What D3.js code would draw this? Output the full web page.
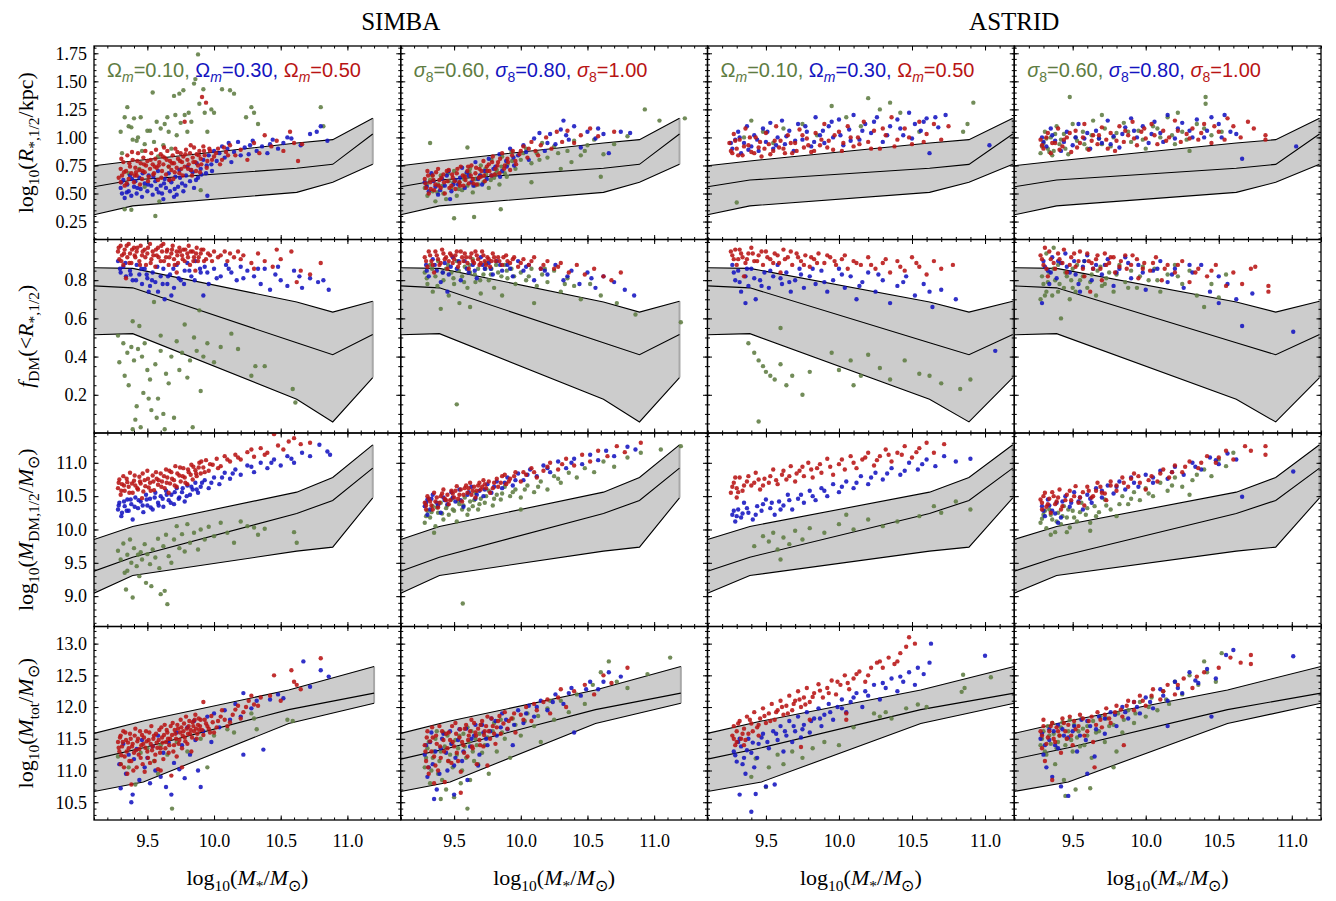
<!DOCTYPE html>
<html>
<head>
<meta charset="utf-8">
<script src="https://cdn.jsdelivr.net/npm/d3@7"></script>
<style>
body { margin: 0; background: #fff; }
svg text { font-family: "Liberation Serif", "Times New Roman", serif; fill: #000; }
svg .leg { font-family: "Liberation Sans", Arial, sans-serif; }
</style>
</head>
<body>
<svg id="chart" width="1336" height="901"></svg>
<script>
'use strict';

// ---- x ranges and legend values ----
const xDomainSimba = [9.1, 11.4];
const xDomainAstrid = [9.1, 11.2];
const xTicks = [9.5, 10.0, 10.5, 11.0];
const legendOm = ["0.10", "0.30", "0.50"];
const legendS8 = ["0.60", "0.80", "1.00"];

// ---- observational bands (lower / median / upper) ----
const bandX = [9.1, 9.39, 10.62, 10.89, 11.19];
const radLower = [0.31, 0.39, 0.51, 0.60, 0.76];
const radMid = [0.56, 0.62, 0.725, 0.76, 1.03];
const radUpper = [0.748, 0.79, 0.95, 0.98, 1.17];
const fdmLower = [0.514, 0.52, 0.177, 0.058, 0.29];
const fdmMid = [0.77, 0.76, 0.472, 0.41, 0.516];
const fdmUpper = [0.865, 0.862, 0.686, 0.633, 0.69];
const mdmLower = [9.045, 9.31, 9.675, 9.735, 10.475];
const mdmMid = [9.375, 9.585, 10.24, 10.435, 10.92];
const mdmUpper = [9.85, 10.045, 10.56, 10.78, 11.27];
const bandXTot = [9.1, 9.47, 10.56, 11.2];
const totLower = [10.67, 10.82, 11.74, 12.06];
const totMid = [11.18, 11.36, 11.96, 12.22];
const totUpper = [11.585, 11.78, 12.27, 12.64];

// ---- row 1: log10(R*,1/2/kpc) ----
const radSimbaOmG = [[9.30,1.05],[9.31,0.86],[9.33,1.18],[9.35,1.27],[9.36,1.10],[9.38,1.09],[9.39,0.98],[9.40,1.17],[9.42,0.97],[9.43,1.00],[9.45,1.18],[9.46,0.88],[9.48,0.94],[9.50,1.06],[9.52,1.06],[9.54,1.40],[9.55,0.96],[9.57,1.14],[9.58,0.83],[9.60,1.08],[9.62,0.93],[9.63,1.12],[9.65,1.18],[9.66,1.05],[9.68,0.90],[9.70,1.37],[9.71,1.20],[9.72,1.02],[9.74,1.39],[9.75,1.13],[9.77,1.42],[9.78,1.20],[9.80,1.05],[9.81,1.22],[9.83,1.14],[9.85,1.48],[9.86,1.52],[9.88,1.74],[9.89,1.30],[9.92,1.43],[9.93,1.22],[9.95,1.05],[9.98,1.25],[10.00,1.22],[10.06,1.43],[10.12,1.42],[10.15,1.39],[10.24,1.18],[10.28,1.27],[10.30,1.22],[10.33,1.12],[10.80,1.27],[10.82,1.10],[9.33,0.36],[9.59,0.43],[9.90,0.53],[9.48,0.56],[9.36,0.68],[9.66,0.74],[9.44,0.72],[9.56,0.30],[9.38,0.355]];
const radSimbaOmB = [[9.30,0.55],[9.31,0.50],[9.32,0.62],[9.33,0.46],[9.35,0.58],[9.36,0.52],[9.37,0.66],[9.38,0.48],[9.40,0.56],[9.41,0.61],[9.42,0.50],[9.44,0.64],[9.45,0.54],[9.46,0.47],[9.48,0.59],[9.50,0.52],[9.51,0.66],[9.53,0.57],[9.54,0.49],[9.56,0.61],[9.57,0.54],[9.58,0.70],[9.60,0.57],[9.61,0.50],[9.63,0.63],[9.64,0.55],[9.66,0.68],[9.67,0.52],[9.68,0.60],[9.70,0.47],[9.71,0.65],[9.73,0.56],[9.74,0.71],[9.76,0.59],[9.77,0.52],[9.79,0.66],[9.80,0.74],[9.82,0.61],[9.84,0.69],[9.85,0.55],[9.87,0.77],[9.88,0.64],[9.90,0.72],[9.92,0.80],[9.94,0.68],[9.96,0.84],[9.98,0.76],[10.00,0.88],[10.02,0.79],[10.04,0.86],[10.06,0.92],[10.08,0.82],[10.10,0.90],[10.13,0.78],[10.15,0.87],[10.18,0.96],[10.20,0.84],[10.23,0.91],[10.26,0.85],[10.29,0.97],[10.32,0.88],[10.36,0.92],[10.40,0.86],[10.44,0.98],[10.48,0.90],[10.52,0.95],[10.58,0.99],[10.65,0.93],[10.72,1.03],[10.80,1.10],[10.85,0.97],[10.77,1.05],[9.95,0.48],[9.305,0.60],[9.345,0.51],[9.385,0.63],[9.425,0.55],[9.465,0.68],[9.505,0.58],[9.545,0.65],[9.585,0.51],[9.625,0.59],[9.665,0.62],[9.705,0.54],[9.745,0.64],[9.785,0.57],[9.825,0.71],[9.865,0.62],[9.905,0.67],[9.945,0.75],[9.985,0.70],[10.11,0.95],[10.27,0.93],[10.42,0.94],[10.55,1.00],[9.62,0.45],[9.72,0.49]];
const radSimbaOmR = [[9.30,0.72],[9.30,0.60],[9.31,0.66],[9.32,0.78],[9.33,0.57],[9.34,0.70],[9.35,0.84],[9.36,0.63],[9.37,0.74],[9.38,0.68],[9.39,0.80],[9.40,0.60],[9.41,0.73],[9.42,0.66],[9.43,0.86],[9.44,0.71],[9.45,0.77],[9.46,0.63],[9.47,0.82],[9.48,0.69],[9.49,0.75],[9.50,0.79],[9.51,0.65],[9.52,0.72],[9.53,0.86],[9.54,0.76],[9.55,0.68],[9.56,0.81],[9.57,0.73],[9.58,0.62],[9.59,0.78],[9.60,0.85],[9.61,0.70],[9.62,0.76],[9.63,0.82],[9.64,0.67],[9.65,0.88],[9.66,0.74],[9.67,0.79],[9.68,0.71],[9.69,0.84],[9.70,0.77],[9.71,0.90],[9.72,0.73],[9.73,0.81],[9.74,0.68],[9.75,0.86],[9.76,0.78],[9.77,0.83],[9.78,0.74],[9.79,0.89],[9.80,0.80],[9.81,0.76],[9.82,0.86],[9.83,0.71],[9.84,0.82],[9.85,0.91],[9.86,0.78],[9.87,0.85],[9.88,0.75],[9.89,0.88],[9.90,0.81],[9.92,0.92],[9.93,0.84],[9.95,0.79],[9.97,0.88],[10.00,0.83],[10.03,0.90],[10.06,0.80],[10.09,0.87],[10.12,0.93],[10.16,0.84],[10.20,0.89],[10.25,0.80],[10.30,0.95],[10.34,0.86],[10.38,1.02],[10.43,0.92],[10.47,0.97],[10.52,0.88],[10.57,1.05],[10.60,0.95],[10.63,0.79],[10.66,0.94],[9.91,1.36],[9.94,1.31],[9.78,1.14],[9.285,0.64],[9.305,0.81],[9.325,0.69],[9.345,0.59],[9.365,0.77],[9.385,0.87],[9.405,0.66],[9.425,0.79],[9.445,0.58],[9.465,0.70],[9.485,0.88],[9.505,0.61],[9.525,0.80],[9.545,0.67],[9.565,0.89],[9.585,0.75],[9.605,0.64],[9.625,0.91],[9.645,0.80],[9.665,0.62],[9.685,0.77],[9.705,0.69],[9.725,0.87],[9.745,0.79],[9.765,0.66],[9.785,0.85],[9.805,0.72],[9.825,0.93],[9.845,0.78],[9.865,0.70],[9.885,0.84],[9.905,0.76],[9.925,0.88],[9.945,0.73],[9.965,0.90],[9.985,0.80],[10.015,0.86],[10.045,0.76],[10.075,0.91],[10.105,0.84],[9.415,0.69],[9.555,0.74],[9.695,0.63],[9.835,0.66],[9.475,0.76],[9.615,0.83],[9.755,0.72],[9.895,0.69]];
const radSimbaS8G = [[9.28,0.55],[9.30,0.48],[9.32,0.62],[9.34,0.52],[9.36,0.43],[9.38,0.58],[9.40,0.66],[9.42,0.50],[9.44,0.45],[9.46,0.61],[9.48,0.55],[9.50,0.70],[9.52,0.48],[9.54,0.60],[9.56,0.53],[9.58,0.66],[9.60,0.57],[9.62,0.72],[9.64,0.51],[9.66,0.63],[9.68,0.58],[9.70,0.75],[9.72,0.60],[9.74,0.67],[9.76,0.55],[9.78,0.80],[9.80,0.64],[9.82,0.71],[9.84,0.58],[9.86,0.83],[9.88,0.68],[9.90,0.76],[9.93,0.87],[9.96,0.72],[10.00,0.80],[10.04,0.90],[10.08,0.77],[10.12,0.86],[10.16,0.95],[10.20,0.82],[10.25,0.92],[10.30,0.72],[10.35,0.88],[10.40,0.97],[10.45,0.84],[10.50,0.93],[10.55,0.98],[10.62,0.85],[10.70,0.94],[10.80,1.01],[10.93,1.25],[11.04,1.15],[11.23,1.17],[10.60,0.65],[10.08,0.60],[9.50,0.28],[9.65,0.29],[9.85,0.36],[9.32,0.95],[9.60,0.91],[9.295,0.58],[9.335,0.66],[9.375,0.51],[9.415,0.57],[9.455,0.68],[9.495,0.60],[9.535,0.54],[9.575,0.63],[9.615,0.69],[9.655,0.57],[9.695,0.66],[9.735,0.72],[9.775,0.62],[9.815,0.68],[9.855,0.74],[9.895,0.65],[9.935,0.79],[10.02,0.86],[10.14,0.80],[10.28,0.86],[10.38,0.78],[10.48,0.88]];
const radSimbaS8B = [[9.28,0.60],[9.31,0.52],[9.33,0.68],[9.36,0.56],[9.38,0.49],[9.41,0.63],[9.43,0.57],[9.46,0.70],[9.48,0.52],[9.51,0.62],[9.53,0.58],[9.56,0.73],[9.58,0.55],[9.61,0.66],[9.63,0.60],[9.66,0.78],[9.68,0.63],[9.71,0.58],[9.73,0.70],[9.76,0.81],[9.78,0.66],[9.81,0.74],[9.84,0.85],[9.86,0.70],[9.89,0.79],[9.92,0.90],[9.95,0.75],[9.98,0.84],[10.02,0.93],[10.06,0.80],[10.10,0.99],[10.14,1.04],[10.18,0.88],[10.22,1.03],[10.26,0.94],[10.30,1.07],[10.32,1.15],[10.36,0.98],[10.40,1.10],[10.45,0.91],[10.50,1.05],[10.56,0.99],[10.62,1.03],[10.66,0.86],[10.75,1.05],[10.82,1.04],[9.47,0.45],[9.295,0.56],[9.345,0.61],[9.395,0.53],[9.445,0.66],[9.495,0.58],[9.545,0.64],[9.595,0.69],[9.645,0.57],[9.695,0.66],[9.745,0.63],[9.795,0.72],[9.845,0.65],[9.895,0.74],[9.945,0.82],[10.04,0.87],[10.20,0.95],[10.34,1.02],[10.58,1.08]];
const radSimbaS8R = [[9.28,0.63],[9.29,0.55],[9.30,0.70],[9.31,0.50],[9.32,0.60],[9.34,0.66],[9.35,0.53],[9.36,0.58],[9.38,0.72],[9.39,0.62],[9.40,0.55],[9.42,0.67],[9.43,0.50],[9.45,0.61],[9.46,0.71],[9.48,0.57],[9.49,0.64],[9.51,0.54],[9.52,0.68],[9.54,0.60],[9.55,0.74],[9.57,0.57],[9.58,0.65],[9.60,0.70],[9.61,0.59],[9.63,0.75],[9.64,0.63],[9.66,0.68],[9.67,0.58],[9.69,0.72],[9.70,0.65],[9.72,0.79],[9.73,0.61],[9.75,0.70],[9.76,0.76],[9.78,0.66],[9.79,0.83],[9.81,0.72],[9.83,0.78],[9.84,0.68],[9.86,0.86],[9.88,0.75],[9.90,0.81],[9.92,0.71],[9.94,0.88],[9.96,0.79],[9.99,0.85],[10.02,0.92],[10.05,0.82],[10.08,0.96],[10.11,0.88],[10.15,0.93],[10.19,1.00],[10.23,0.90],[10.27,1.05],[10.31,0.96],[10.35,1.06],[10.40,0.95],[10.45,1.02],[10.52,1.08],[10.58,1.01],[10.70,1.05],[9.285,0.59],[9.305,0.66],[9.325,0.54],[9.345,0.62],[9.365,0.69],[9.385,0.57],[9.405,0.64],[9.425,0.60],[9.445,0.70],[9.465,0.55],[9.485,0.67],[9.505,0.61],[9.525,0.72],[9.545,0.57],[9.565,0.66],[9.585,0.62],[9.605,0.74],[9.625,0.66],[9.645,0.59],[9.665,0.73],[9.685,0.64],[9.705,0.70],[9.725,0.66],[9.745,0.74],[9.765,0.70],[9.785,0.78],[9.805,0.67],[9.825,0.75],[9.845,0.81],[9.875,0.72],[9.905,0.78],[9.935,0.84],[9.965,0.76],[10.00,0.88],[10.06,0.90],[10.13,0.84]];
const radAstridOmG = [[9.30,0.42],[9.35,1.00],[9.48,1.05],[9.62,1.08],[9.75,1.12],[9.85,1.02],[9.95,1.28],[10.05,1.18],[10.15,1.10],[10.28,1.25],[10.35,1.31],[10.42,1.22],[10.55,1.05],[10.85,1.05],[10.88,1.12],[10.92,1.31],[9.40,1.15],[9.55,0.95],[10.20,1.35]];
const radAstridOmB = [[9.27,0.90],[9.29,0.98],[9.31,1.05],[9.33,0.86],[9.35,0.95],[9.37,1.10],[9.40,0.92],[9.42,1.02],[9.45,0.88],[9.48,1.08],[9.50,0.96],[9.53,1.13],[9.55,0.90],[9.58,1.00],[9.61,1.15],[9.63,0.94],[9.66,1.06],[9.69,0.88],[9.72,1.12],[9.75,0.98],[9.78,1.05],[9.81,0.92],[9.84,1.18],[9.87,1.02],[9.90,0.95],[9.93,1.10],[9.96,1.00],[10.00,1.16],[10.03,0.93],[10.07,1.07],[10.10,1.20],[10.14,0.98],[10.18,1.12],[10.22,1.04],[10.26,1.18],[10.30,0.96],[10.35,1.10],[10.40,1.16],[10.44,1.02],[10.48,1.22],[10.52,1.12],[10.56,1.06],[10.60,1.17],[10.68,1.09],[10.73,1.20],[11.03,0.93],[10.62,0.86],[9.26,0.95],[9.32,1.00],[9.38,0.89],[9.44,0.98],[9.51,1.05],[9.57,0.93],[9.64,1.01],[9.70,0.97],[9.77,1.10],[9.83,0.96],[9.89,1.06],[9.95,1.14],[10.01,1.02],[10.08,0.97],[10.16,1.06],[10.24,1.14],[10.33,1.02],[10.42,1.08],[10.50,0.99],[10.58,1.14],[10.66,1.18]];
const radAstridOmR = [[9.25,0.95],[9.27,0.86],[9.28,1.03],[9.30,0.90],[9.32,0.98],[9.34,0.84],[9.36,1.08],[9.38,0.93],[9.40,0.87],[9.43,1.00],[9.45,0.91],[9.47,0.83],[9.50,1.04],[9.52,0.94],[9.55,0.88],[9.57,1.10],[9.60,0.97],[9.62,0.90],[9.65,1.02],[9.68,0.86],[9.70,0.95],[9.73,1.07],[9.76,0.91],[9.78,0.99],[9.81,0.87],[9.84,1.04],[9.87,0.93],[9.90,1.12],[9.93,0.97],[9.96,0.89],[10.00,1.05],[10.03,0.95],[10.06,1.10],[10.10,0.92],[10.13,1.00],[10.17,1.14],[10.20,0.96],[10.24,1.06],[10.28,0.90],[10.32,1.02],[10.36,1.18],[10.40,0.98],[10.45,1.08],[10.50,0.94],[10.55,1.14],[10.60,1.03],[10.65,1.12],[10.70,0.98],[10.75,1.10],[9.26,0.88],[9.29,0.97],[9.31,0.84],[9.35,0.92],[9.39,1.00],[9.42,0.86],[9.46,0.96],[9.49,0.90],[9.53,0.85],[9.56,0.97],[9.59,0.91],[9.63,0.86],[9.67,0.95],[9.71,0.88],[9.75,1.02],[9.79,0.93],[9.83,0.88],[9.88,0.98],[9.92,0.91],[9.97,1.02],[10.02,0.88],[10.08,1.00],[10.14,0.94],[10.22,0.90],[10.30,1.08],[10.38,0.92],[10.48,1.00],[10.58,0.96]];
const radAstridS8G = [[9.28,0.86],[9.30,0.95],[9.31,1.05],[9.33,0.90],[9.35,1.00],[9.37,0.88],[9.39,1.10],[9.41,0.94],[9.44,1.03],[9.48,1.36],[9.47,0.85],[9.50,1.12],[9.53,0.97],[9.57,1.05],[9.60,0.90],[9.64,1.15],[9.68,0.99],[9.72,1.08],[9.76,0.92],[9.80,1.04],[9.85,1.13],[9.90,0.96],[9.95,1.06],[10.00,0.90],[10.05,1.10],[10.10,1.00],[10.15,1.18],[10.20,0.94],[10.25,1.05],[10.30,0.88],[10.35,1.12],[10.41,1.36],[10.41,1.30],[10.45,1.02],[10.22,1.22],[9.70,1.20],[10.52,1.05],[9.29,0.92],[9.32,0.99],[9.34,0.87],[9.38,1.03],[9.42,0.98],[9.45,0.90],[9.52,1.00],[9.58,0.94],[9.63,1.02],[9.70,0.94],[9.78,1.00],[9.88,1.05],[9.98,0.98],[10.08,1.08],[10.18,1.02],[10.28,0.98],[10.40,1.08],[9.36,0.84]];
const radAstridS8B = [[9.29,1.00],[9.32,0.92],[9.35,1.08],[9.38,0.97],[9.42,0.88],[9.46,1.05],[9.50,0.93],[9.54,1.12],[9.58,0.99],[9.62,0.90],[9.66,1.06],[9.70,0.95],[9.74,1.15],[9.78,1.01],[9.82,0.91],[9.86,1.09],[9.90,1.17],[9.94,1.00],[9.98,1.10],[10.02,0.95],[10.06,1.14],[10.10,1.04],[10.15,1.20],[10.20,0.99],[10.25,1.13],[10.30,1.06],[10.35,1.16],[10.40,1.00],[10.45,1.18],[10.50,1.12],[10.54,1.20],[10.58,1.05],[10.66,0.81],[11.03,0.92],[10.62,1.03],[9.30,0.96],[9.36,1.02],[9.44,0.96],[9.52,1.00],[9.60,1.04],[9.68,0.99],[9.76,0.94],[9.84,1.03],[9.92,1.06],[10.04,1.03],[10.12,0.96],[10.22,1.08],[10.32,1.00],[10.42,1.06],[10.52,1.00]];
const radAstridS8R = [[9.28,0.98],[9.30,0.90],[9.33,1.04],[9.35,0.86],[9.38,0.95],[9.40,1.08],[9.43,0.92],[9.46,1.00],[9.49,0.87],[9.52,1.06],[9.55,0.95],[9.58,1.12],[9.61,0.89],[9.64,1.02],[9.67,0.94],[9.70,1.09],[9.73,0.98],[9.76,1.04],[9.79,0.88],[9.82,1.10],[9.85,0.96],[9.88,1.02],[9.91,1.14],[9.94,0.93],[9.97,1.05],[10.00,0.99],[10.04,1.12],[10.08,0.94],[10.12,1.06],[10.16,1.00],[10.20,1.15],[10.24,0.96],[10.28,1.03],[10.32,1.08],[10.36,0.98],[10.40,1.12],[10.45,0.95],[10.50,1.05],[10.56,1.17],[10.60,1.10],[10.65,1.00],[10.70,1.14],[10.74,1.08],[10.82,1.02],[10.82,0.98],[9.29,0.93],[9.32,1.00],[9.36,0.95],[9.41,0.89],[9.44,0.98],[9.48,1.04],[9.53,0.91],[9.57,1.00],[9.63,0.97],[9.68,1.02],[9.74,0.90],[9.80,0.97],[9.86,1.06],[9.92,0.99],[9.99,1.08],[10.06,1.02],[10.14,0.97],[10.22,1.06],[10.30,0.99],[10.38,1.04],[10.47,1.10],[10.54,0.98]];

// ---- row 2: f_DM(<R*,1/2) ----
const fdmSimbaOmG = [[9.28,0.51],[9.29,0.37],[9.32,0.47],[9.33,0.30],[9.35,0.42],[9.36,0.25],[9.38,0.45],[9.39,0.585],[9.40,0.38],[9.41,0.07],[9.42,0.14],[9.43,0.44],[9.45,0.03],[9.46,0.40],[9.47,0.21],[9.48,0.47],[9.50,0.33],[9.52,0.28],[9.53,0.12],[9.55,0.686],[9.56,0.36],[9.58,0.18],[9.60,0.43],[9.62,0.10],[9.64,0.31],[9.66,0.26],[9.68,0.40],[9.70,0.08],[9.72,0.48],[9.74,0.33],[9.76,0.42],[9.78,0.568],[9.80,0.29],[9.82,0.38],[9.85,0.50],[9.87,0.43],[9.89,0.642],[9.90,0.22],[9.92,0.40],[9.95,0.47],[10.00,0.37],[10.05,0.45],[10.13,0.52],[10.18,0.44],[10.28,0.30],[10.31,0.35],[10.38,0.35],[10.59,0.23],[10.61,0.16],[9.44,0.56],[9.60,0.51],[9.51,0.18],[9.84,0.03],[9.63,0.02],[9.57,0.08],[9.39,0.02]];
const fdmSimbaOmB = [[9.28,0.90],[9.30,0.84],[9.32,0.87],[9.34,0.82],[9.37,0.85],[9.39,0.80],[9.42,0.88],[9.44,0.83],[9.46,0.78],[9.48,0.86],[9.50,0.81],[9.52,0.77],[9.54,0.84],[9.56,0.79],[9.58,0.74],[9.60,0.82],[9.62,0.86],[9.63,0.70],[9.65,0.78],[9.67,0.83],[9.70,0.76],[9.72,0.88],[9.75,0.80],[9.78,0.85],[9.80,0.89],[9.83,0.82],[9.86,0.90],[9.90,0.84],[9.93,0.87],[9.96,0.78],[10.00,0.86],[10.05,0.82],[10.09,0.88],[10.13,0.84],[10.17,0.80],[10.20,0.87],[10.25,0.85],[10.30,0.82],[10.35,0.78],[10.38,0.86],[10.42,0.75],[10.46,0.83],[10.50,0.80],[10.55,0.77],[10.60,0.85],[10.66,0.76],[10.72,0.81],[10.78,0.79],[10.82,0.80],[10.86,0.75],[9.92,0.72],[9.295,0.86],[9.335,0.89],[9.375,0.83],[9.415,0.80],[9.455,0.86],[9.495,0.83],[9.535,0.80],[9.575,0.87],[9.615,0.78],[9.655,0.82],[9.695,0.86],[9.735,0.81],[9.775,0.78],[9.815,0.85],[9.855,0.80],[9.895,0.86],[9.95,0.84],[10.02,0.81],[10.11,0.86],[10.22,0.81],[10.33,0.86],[10.48,0.87],[10.64,0.82],[9.51,0.74],[9.68,0.72]];
const fdmSimbaOmR = [[9.28,0.95],[9.29,0.91],[9.30,0.98],[9.31,0.93],[9.32,0.88],[9.33,0.96],[9.35,0.92],[9.36,0.99],[9.37,0.94],[9.38,0.89],[9.40,0.97],[9.41,0.92],[9.42,0.95],[9.44,0.90],[9.45,0.98],[9.46,0.93],[9.48,0.96],[9.49,0.88],[9.50,0.94],[9.52,0.99],[9.53,0.91],[9.54,0.95],[9.56,0.87],[9.57,0.93],[9.58,0.97],[9.60,0.90],[9.61,0.95],[9.62,0.99],[9.64,0.92],[9.65,0.96],[9.66,0.88],[9.68,0.94],[9.69,0.98],[9.70,0.91],[9.72,0.95],[9.73,0.89],[9.74,0.97],[9.76,0.93],[9.77,0.96],[9.78,0.90],[9.80,0.94],[9.81,0.98],[9.82,0.88],[9.84,0.95],[9.85,0.92],[9.87,0.97],[9.88,0.90],[9.90,0.94],[9.92,0.96],[9.94,0.91],[9.97,0.93],[10.00,0.95],[10.05,0.93],[10.08,0.95],[10.12,0.94],[10.15,0.92],[10.18,0.95],[10.22,0.93],[10.28,0.89],[10.30,0.86],[10.33,0.94],[10.38,0.90],[10.44,0.87],[10.47,0.96],[10.50,0.91],[10.58,0.95],[10.62,0.79],[10.65,0.85],[10.72,0.83],[10.80,0.89],[9.86,0.85],[9.34,0.81],[9.72,0.84],[9.285,0.97],[9.305,0.90],[9.325,0.94],[9.345,0.98],[9.365,0.89],[9.385,0.96],[9.405,0.93],[9.425,0.97],[9.445,0.88],[9.465,0.95],[9.485,0.92],[9.505,0.97],[9.525,0.89],[9.545,0.93],[9.565,0.96],[9.585,0.92],[9.605,0.98],[9.625,0.90],[9.645,0.95],[9.665,0.92],[9.685,0.96],[9.705,0.88],[9.725,0.93],[9.745,0.95],[9.765,0.91],[9.785,0.96],[9.805,0.92],[9.825,0.95],[9.845,0.90],[9.865,0.94],[9.885,0.92],[9.905,0.96],[9.925,0.90],[9.955,0.94],[9.985,0.90],[10.03,0.92],[10.10,0.90],[10.20,0.91]];
const fdmSimbaS8G = [[9.28,0.84],[9.30,0.78],[9.32,0.88],[9.34,0.74],[9.36,0.82],[9.38,0.90],[9.40,0.65],[9.42,0.80],[9.44,0.86],[9.46,0.72],[9.48,0.84],[9.50,0.78],[9.52,0.90],[9.54,0.68],[9.56,0.82],[9.58,0.87],[9.60,0.76],[9.62,0.84],[9.64,0.91],[9.66,0.79],[9.68,0.86],[9.70,0.73],[9.72,0.83],[9.74,0.89],[9.76,0.80],[9.78,0.86],[9.80,0.76],[9.83,0.84],[9.86,0.72],[9.88,0.88],[9.90,0.81],[9.93,0.86],[9.96,0.78],[10.00,0.84],[10.04,0.80],[10.08,0.86],[10.12,0.77],[10.16,0.83],[10.20,0.79],[10.25,0.85],[10.30,0.74],[10.35,0.81],[10.40,0.77],[10.45,0.70],[10.52,0.78],[10.60,0.72],[10.72,0.68],[10.86,0.62],[11.20,0.58],[9.52,0.15],[9.62,0.66],[10.10,0.68],[9.295,0.81],[9.335,0.86],[9.375,0.77],[9.415,0.84],[9.455,0.88],[9.495,0.81],[9.535,0.85],[9.575,0.79],[9.615,0.88],[9.655,0.83],[9.695,0.80],[9.735,0.86],[9.775,0.83],[9.815,0.88],[9.855,0.82],[9.895,0.85],[9.95,0.82],[10.06,0.82],[10.18,0.86],[10.33,0.78]];
const fdmSimbaS8B = [[9.29,0.88],[9.31,0.82],[9.34,0.91],[9.37,0.85],[9.40,0.79],[9.43,0.89],[9.46,0.83],[9.49,0.92],[9.52,0.86],[9.55,0.80],[9.58,0.90],[9.61,0.84],[9.64,0.88],[9.67,0.81],[9.70,0.92],[9.73,0.86],[9.76,0.89],[9.79,0.83],[9.82,0.90],[9.86,0.85],[9.90,0.88],[9.94,0.82],[9.98,0.90],[10.02,0.85],[10.06,0.88],[10.10,0.80],[10.15,0.86],[10.20,0.83],[10.26,0.88],[10.32,0.80],[10.38,0.85],[10.44,0.78],[10.50,0.84],[10.56,0.76],[10.62,0.82],[10.70,0.79],[10.78,0.75],[10.85,0.72],[9.45,0.74],[9.295,0.85],[9.355,0.88],[9.415,0.84],[9.475,0.87],[9.535,0.90],[9.595,0.86],[9.655,0.85],[9.715,0.88],[9.775,0.86],[9.845,0.88],[9.92,0.86],[10.04,0.87],[10.18,0.85],[10.35,0.82],[10.53,0.81]];
const fdmSimbaS8R = [[9.28,0.92],[9.30,0.87],[9.31,0.95],[9.33,0.90],[9.35,0.84],[9.37,0.93],[9.39,0.88],[9.41,0.96],[9.43,0.91],[9.45,0.86],[9.47,0.94],[9.49,0.89],[9.51,0.93],[9.53,0.87],[9.55,0.95],[9.57,0.90],[9.59,0.92],[9.61,0.86],[9.63,0.94],[9.65,0.89],[9.67,0.93],[9.69,0.88],[9.71,0.95],[9.73,0.90],[9.75,0.92],[9.77,0.87],[9.79,0.94],[9.81,0.90],[9.83,0.92],[9.86,0.88],[9.89,0.93],[9.92,0.89],[9.95,0.92],[9.98,0.87],[10.02,0.91],[10.06,0.88],[10.10,0.92],[10.15,0.86],[10.20,0.90],[10.25,0.86],[10.30,0.89],[10.36,0.84],[10.42,0.88],[10.48,0.83],[10.55,0.86],[10.62,0.82],[10.68,0.80],[10.75,0.84],[9.29,0.90],[9.32,0.93],[9.34,0.88],[9.36,0.95],[9.38,0.91],[9.40,0.89],[9.42,0.94],[9.44,0.92],[9.46,0.90],[9.48,0.93],[9.50,0.91],[9.52,0.95],[9.54,0.89],[9.56,0.92],[9.58,0.94],[9.60,0.89],[9.62,0.92],[9.64,0.90],[9.66,0.95],[9.68,0.91],[9.70,0.89],[9.72,0.93],[9.74,0.88],[9.76,0.91],[9.78,0.90],[9.80,0.92],[9.84,0.90],[9.87,0.92],[9.90,0.90],[9.94,0.91],[10.00,0.89],[10.08,0.90],[10.17,0.88],[10.28,0.87]];
const fdmAstridOmG = [[9.38,0.47],[9.42,0.42],[9.45,0.38],[9.48,0.35],[9.50,0.32],[9.53,0.30],[9.56,0.28],[9.60,0.36],[9.64,0.25],[9.68,0.30],[9.75,0.20],[9.80,0.32],[9.45,0.06],[10.00,0.33],[10.08,0.38],[10.15,0.30],[10.20,0.41],[10.28,0.34],[10.35,0.28],[10.45,0.38],[10.55,0.31],[10.62,0.30],[10.70,0.26],[10.83,0.23],[10.90,0.28],[9.60,0.55],[9.95,0.42],[10.10,0.25]];
const fdmAstridOmB = [[9.27,0.88],[9.29,0.80],[9.31,0.85],[9.33,0.74],[9.36,0.82],[9.38,0.77],[9.40,0.86],[9.43,0.70],[9.46,0.80],[9.49,0.84],[9.52,0.76],[9.55,0.82],[9.58,0.88],[9.61,0.78],[9.64,0.84],[9.67,0.74],[9.70,0.80],[9.73,0.86],[9.76,0.76],[9.80,0.82],[9.84,0.78],[9.88,0.85],[9.92,0.74],[9.96,0.80],[10.00,0.86],[10.04,0.76],[10.08,0.82],[10.12,0.70],[10.16,0.79],[10.20,0.84],[10.25,0.74],[10.30,0.80],[10.35,0.68],[10.40,0.77],[10.46,0.82],[10.52,0.72],[10.58,0.78],[10.64,0.66],[10.70,0.75],[10.80,0.70],[11.07,0.43],[9.36,0.68],[9.28,0.84],[9.32,0.79],[9.37,0.86],[9.42,0.81],[9.47,0.77],[9.53,0.85],[9.60,0.81],[9.66,0.79],[9.74,0.83],[9.82,0.86],[9.90,0.79],[10.02,0.83],[10.14,0.77],[10.27,0.83],[10.44,0.79],[10.62,0.74]];
const fdmAstridOmR = [[9.26,0.95],[9.28,0.91],[9.30,0.88],[9.32,0.96],[9.34,0.92],[9.36,0.89],[9.38,0.94],[9.40,0.97],[9.42,0.90],[9.45,0.93],[9.48,0.88],[9.50,0.95],[9.53,0.91],[9.56,0.94],[9.59,0.89],[9.62,0.96],[9.65,0.92],[9.68,0.88],[9.71,0.94],[9.74,0.90],[9.77,0.93],[9.80,0.87],[9.83,0.91],[9.86,0.94],[9.90,0.89],[9.94,0.92],[9.98,0.88],[10.02,0.91],[10.06,0.86],[10.10,0.90],[10.15,0.88],[10.20,0.92],[10.25,0.86],[10.30,0.89],[10.35,0.84],[10.40,0.90],[10.45,0.85],[10.50,0.92],[10.55,0.87],[10.60,0.83],[10.65,0.90],[10.70,0.86],[10.78,0.88],[9.35,0.82],[9.60,0.84],[9.27,0.93],[9.29,0.96],[9.31,0.91],[9.33,0.94],[9.37,0.91],[9.41,0.94],[9.44,0.90],[9.47,0.95],[9.51,0.92],[9.55,0.89],[9.58,0.93],[9.63,0.91],[9.67,0.95],[9.72,0.92],[9.76,0.88],[9.81,0.92],[9.85,0.89],[9.92,0.93],[9.97,0.90],[10.04,0.93],[10.12,0.89],[10.22,0.88],[10.32,0.91],[10.42,0.87],[10.53,0.89]];
const fdmAstridS8G = [[9.28,0.70],[9.30,0.78],[9.32,0.74],[9.34,0.84],[9.36,0.72],[9.38,0.80],[9.40,0.88],[9.42,0.60],[9.44,0.76],[9.46,0.82],[9.48,0.70],[9.50,0.86],[9.52,0.74],[9.55,0.80],[9.58,0.90],[9.60,0.76],[9.63,0.83],[9.66,0.72],[9.69,0.87],[9.72,0.78],[9.75,0.84],[9.78,0.74],[9.82,0.88],[9.86,0.79],[9.90,0.85],[9.94,0.76],[9.98,0.87],[10.02,0.80],[10.06,0.86],[10.10,0.74],[10.15,0.83],[10.20,0.88],[10.25,0.78],[10.30,0.85],[10.35,0.72],[10.40,0.66],[10.45,0.78],[10.50,0.71],[10.55,0.83],[9.32,0.94],[9.37,0.97],[9.29,0.82],[9.33,0.79],[9.37,0.86],[9.41,0.78],[9.45,0.84],[9.49,0.80],[9.53,0.88],[9.57,0.82],[9.62,0.79],[9.67,0.85],[9.73,0.81],[9.80,0.83],[9.88,0.76],[9.96,0.82],[10.08,0.80],[10.22,0.82],[9.31,0.72],[9.40,0.74],[9.50,0.76],[9.70,0.77]];
const fdmAstridS8B = [[9.29,0.68],[9.30,0.90],[9.33,0.85],[9.36,0.92],[9.39,0.81],[9.42,0.89],[9.45,0.94],[9.48,0.84],[9.51,0.90],[9.54,0.78],[9.57,0.87],[9.60,0.93],[9.63,0.80],[9.66,0.88],[9.70,0.83],[9.74,0.91],[9.78,0.77],[9.82,0.86],[9.86,0.92],[9.90,0.81],[9.95,0.88],[10.00,0.75],[10.05,0.85],[10.10,0.90],[10.15,0.79],[10.20,0.86],[10.26,0.76],[10.32,0.84],[10.38,0.88],[10.44,0.74],[10.50,0.82],[10.56,0.78],[10.62,0.70],[10.66,0.56],[10.73,0.73],[11.01,0.53],[10.50,0.68],[9.31,0.87],[9.35,0.84],[9.40,0.90],[9.46,0.87],[9.52,0.83],[9.58,0.90],[9.64,0.86],[9.72,0.88],[9.80,0.84],[9.88,0.89],[9.98,0.84],[10.08,0.86],[10.18,0.83],[10.30,0.88],[9.34,0.78],[9.55,0.74]];
const fdmAstridS8R = [[9.28,0.93],[9.30,0.88],[9.31,0.97],[9.33,0.82],[9.35,0.91],[9.38,0.86],[9.40,0.94],[9.43,0.89],[9.46,0.84],[9.49,0.92],[9.52,0.87],[9.55,0.95],[9.58,0.82],[9.61,0.90],[9.64,0.86],[9.67,0.93],[9.70,0.80],[9.73,0.88],[9.76,0.92],[9.79,0.84],[9.83,0.90],[9.87,0.86],[9.91,0.93],[9.95,0.81],[9.99,0.89],[10.03,0.85],[10.07,0.92],[10.11,0.80],[10.15,0.88],[10.20,0.84],[10.25,0.90],[10.30,0.79],[10.36,0.86],[10.42,0.82],[10.48,0.88],[10.55,0.77],[10.60,0.84],[10.66,0.78],[10.72,0.86],[10.75,0.87],[10.84,0.77],[10.84,0.74],[9.62,0.74],[9.29,0.91],[9.32,0.86],[9.34,0.95],[9.37,0.89],[9.41,0.91],[9.44,0.96],[9.48,0.88],[9.51,0.94],[9.54,0.90],[9.57,0.86],[9.60,0.94],[9.63,0.89],[9.66,0.91],[9.69,0.86],[9.72,0.94],[9.75,0.89],[9.78,0.92],[9.82,0.87],[9.86,0.93],[9.90,0.88],[9.94,0.91],[9.98,0.86],[10.05,0.89],[10.13,0.86],[10.22,0.88],[10.34,0.84],[10.45,0.85]];

// ---- row 3: log10(M_DM,1/2/Msun) ----
const mdmSimbaOmG = [[9.28,9.68],[9.30,9.55],[9.32,9.79],[9.33,9.35],[9.34,9.10],[9.35,9.62],[9.37,9.85],[9.38,9.50],[9.39,8.98],[9.40,9.72],[9.42,9.45],[9.43,9.62],[9.44,9.30],[9.46,9.55],[9.48,9.78],[9.49,9.20],[9.50,9.63],[9.52,9.48],[9.53,9.15],[9.54,9.70],[9.56,9.58],[9.58,9.86],[9.59,9.42],[9.60,9.03],[9.62,9.75],[9.63,9.08],[9.64,9.92],[9.65,8.88],[9.66,9.60],[9.68,9.50],[9.70,9.85],[9.72,10.05],[9.74,9.72],[9.76,9.93],[9.78,9.67],[9.80,10.08],[9.82,9.80],[9.85,9.95],[9.88,9.70],[9.90,10.00],[9.93,9.85],[9.96,10.04],[10.00,9.90],[10.05,10.10],[10.10,9.95],[10.15,9.80],[10.20,10.12],[10.25,10.05],[10.30,10.03],[10.33,9.92],[10.38,10.01],[10.60,9.96],[10.62,9.80],[9.35,9.38],[9.45,9.66]];
const mdmSimbaOmB = [[9.28,10.30],[9.29,10.40],[9.31,10.25],[9.33,10.35],[9.35,10.45],[9.36,10.28],[9.38,10.38],[9.39,10.15],[9.41,10.48],[9.43,10.32],[9.45,10.42],[9.47,10.26],[9.49,10.52],[9.50,10.36],[9.52,10.46],[9.54,10.30],[9.56,10.55],[9.58,10.40],[9.60,10.50],[9.62,10.34],[9.64,10.58],[9.66,10.44],[9.68,10.52],[9.70,10.38],[9.72,10.62],[9.74,10.48],[9.76,10.56],[9.78,10.42],[9.80,10.66],[9.82,10.52],[9.84,10.60],[9.86,10.70],[9.88,10.55],[9.90,10.64],[9.93,10.74],[9.96,10.62],[10.00,10.78],[10.04,10.68],[10.08,10.85],[10.12,10.76],[10.16,10.90],[10.20,10.82],[10.25,10.96],[10.30,10.86],[10.35,11.00],[10.40,10.92],[10.45,11.05],[10.50,10.96],[10.55,11.10],[10.60,11.00],[10.66,11.15],[10.72,11.10],[10.79,11.27],[10.85,11.17],[10.87,11.12],[9.285,10.36],[9.305,10.20],[9.325,10.42],[9.345,10.28],[9.375,10.45],[9.405,10.34],[9.435,10.44],[9.465,10.36],[9.495,10.45],[9.525,10.33],[9.555,10.48],[9.585,10.36],[9.615,10.46],[9.645,10.52],[9.675,10.40],[9.705,10.56],[9.735,10.46],[9.765,10.62],[9.795,10.50],[9.83,10.64],[9.87,10.60],[9.91,10.70],[9.98,10.70],[10.06,10.78],[10.14,10.84],[10.28,10.94],[10.43,11.00],[10.58,11.06]];
const mdmSimbaOmR = [[9.28,10.62],[9.29,10.75],[9.30,10.52],[9.31,10.68],[9.32,10.80],[9.33,10.58],[9.35,10.71],[9.36,10.64],[9.37,10.85],[9.39,10.55],[9.40,10.73],[9.41,10.66],[9.43,10.60],[9.44,10.79],[9.45,10.69],[9.47,10.57],[9.48,10.74],[9.50,10.88],[9.51,10.63],[9.52,10.70],[9.54,10.81],[9.55,10.59],[9.57,10.76],[9.58,10.67],[9.60,10.84],[9.61,10.72],[9.63,10.62],[9.64,10.90],[9.65,10.78],[9.67,10.69],[9.68,10.86],[9.70,10.74],[9.71,10.95],[9.72,10.64],[9.74,10.81],[9.75,10.72],[9.77,10.92],[9.78,10.78],[9.80,10.68],[9.81,10.86],[9.83,10.97],[9.84,10.75],[9.86,10.89],[9.87,10.80],[9.89,11.00],[9.90,10.84],[9.92,10.93],[9.94,11.04],[9.96,10.88],[9.99,10.97],[10.02,11.06],[10.05,10.95],[10.08,11.10],[10.12,11.02],[10.16,11.12],[10.20,11.05],[10.25,11.16],[10.30,11.09],[10.35,11.22],[10.40,11.15],[10.45,11.43],[10.48,11.26],[10.52,11.20],[10.56,11.32],[10.60,11.37],[10.65,11.28],[10.72,11.30],[9.46,10.47],[9.66,10.55],[9.285,10.70],[9.305,10.58],[9.325,10.66],[9.345,10.76],[9.365,10.55],[9.385,10.69],[9.405,10.81],[9.425,10.62],[9.445,10.72],[9.465,10.84],[9.485,10.65],[9.505,10.76],[9.525,10.58],[9.545,10.72],[9.565,10.86],[9.585,10.74],[9.605,10.64],[9.625,10.80],[9.645,10.70],[9.665,10.88],[9.685,10.76],[9.705,10.66],[9.725,10.84],[9.745,10.93],[9.765,10.80],[9.785,10.70],[9.805,10.90],[9.825,10.82],[9.845,10.94],[9.865,10.84],[9.885,10.93],[9.905,11.02],[9.93,10.86],[9.97,10.98],[10.03,10.92],[10.10,11.05],[10.18,11.08],[10.28,11.20],[10.38,11.12]];
const mdmSimbaS8G = [[9.28,10.10],[9.30,10.28],[9.32,10.18],[9.34,10.35],[9.36,10.05],[9.38,10.25],[9.40,10.40],[9.42,10.15],[9.44,10.32],[9.46,10.22],[9.48,10.45],[9.50,10.28],[9.52,10.12],[9.54,10.38],[9.56,10.30],[9.58,10.48],[9.60,10.22],[9.62,10.42],[9.64,10.35],[9.66,10.55],[9.68,10.30],[9.70,10.46],[9.73,10.40],[9.76,10.58],[9.79,10.36],[9.82,10.52],[9.85,10.45],[9.88,10.64],[9.92,10.50],[9.96,10.60],[10.00,10.48],[10.05,10.66],[10.10,10.56],[10.15,10.72],[10.20,10.60],[10.25,10.80],[10.30,10.70],[10.36,10.85],[10.42,10.78],[10.48,10.92],[10.55,10.86],[10.62,11.02],[10.70,10.94],[10.80,11.08],[10.90,11.15],[11.05,11.20],[11.20,11.25],[9.565,8.89],[9.35,9.95],[10.00,10.30],[9.29,10.20],[9.33,10.26],[9.37,10.33],[9.41,10.24],[9.45,10.36],[9.49,10.30],[9.53,10.42],[9.57,10.36],[9.61,10.30],[9.65,10.44],[9.69,10.38],[9.74,10.50],[9.80,10.46],[9.86,10.54],[9.94,10.56],[10.03,10.60],[10.13,10.64],[10.28,10.76]];
const mdmSimbaS8B = [[9.28,10.35],[9.30,10.45],[9.32,10.30],[9.34,10.52],[9.37,10.40],[9.40,10.25],[9.42,10.48],[9.45,10.38],[9.48,10.56],[9.51,10.42],[9.54,10.60],[9.57,10.34],[9.60,10.52],[9.63,10.64],[9.66,10.46],[9.69,10.58],[9.72,10.50],[9.75,10.68],[9.78,10.55],[9.82,10.72],[9.86,10.62],[9.90,10.78],[9.94,10.66],[9.98,10.84],[10.02,10.74],[10.07,10.90],[10.12,10.80],[10.17,10.96],[10.22,10.86],[10.28,11.02],[10.34,10.92],[10.40,11.06],[10.46,10.98],[10.52,11.12],[10.58,11.04],[10.64,11.18],[10.70,11.10],[10.80,11.24],[10.86,11.20],[9.30,10.22],[9.29,10.40],[9.33,10.46],[9.38,10.36],[9.43,10.44],[9.49,10.48],[9.55,10.44],[9.61,10.56],[9.67,10.52],[9.73,10.60],[9.80,10.64],[9.88,10.70],[9.96,10.74],[10.05,10.82],[10.20,10.92],[10.38,11.00]];
const mdmSimbaS8R = [[9.28,10.40],[9.29,10.30],[9.31,10.46],[9.33,10.36],[9.35,10.55],[9.36,10.42],[9.38,10.33],[9.40,10.50],[9.42,10.60],[9.44,10.44],[9.46,10.38],[9.48,10.58],[9.50,10.48],[9.52,10.65],[9.54,10.52],[9.56,10.42],[9.58,10.62],[9.60,10.55],[9.62,10.70],[9.64,10.58],[9.66,10.48],[9.68,10.66],[9.70,10.60],[9.72,10.74],[9.74,10.62],[9.77,10.55],[9.80,10.70],[9.83,10.64],[9.86,10.80],[9.89,10.68],[9.92,10.76],[9.96,10.86],[10.00,10.72],[10.04,10.82],[10.08,10.92],[10.12,10.78],[10.17,10.88],[10.22,11.00],[10.28,10.90],[10.34,11.06],[10.40,10.96],[10.46,11.12],[10.52,11.02],[10.58,11.18],[10.65,11.10],[10.72,11.25],[10.78,11.16],[10.90,11.30],[9.29,10.36],[9.30,10.50],[9.32,10.42],[9.34,10.30],[9.37,10.48],[9.39,10.40],[9.41,10.54],[9.43,10.46],[9.45,10.52],[9.47,10.44],[9.49,10.54],[9.51,10.58],[9.53,10.46],[9.55,10.60],[9.57,10.52],[9.59,10.66],[9.61,10.62],[9.63,10.52],[9.65,10.64],[9.67,10.58],[9.69,10.70],[9.71,10.64],[9.73,10.68],[9.76,10.72],[9.79,10.62],[9.82,10.76],[9.85,10.70],[9.88,10.82],[9.91,10.72],[9.95,10.80],[10.02,10.86],[10.10,10.86],[10.20,10.94],[10.31,10.98]];
const mdmAstridOmG = [[9.42,9.75],[9.48,9.90],[9.52,9.82],[9.55,9.95],[9.58,9.70],[9.62,9.88],[9.66,9.78],[9.70,9.98],[9.75,9.85],[9.80,10.02],[9.90,9.95],[10.00,10.08],[10.10,10.00],[10.20,10.15],[10.30,10.05],[10.40,10.12],[10.55,10.20],[10.65,10.35],[10.80,10.42],[10.90,10.30],[9.60,9.55],[10.05,10.22],[10.70,10.25]];
const mdmAstridOmB = [[9.27,10.22],[9.29,10.12],[9.31,10.30],[9.33,10.18],[9.35,10.40],[9.38,10.25],[9.41,10.15],[9.44,10.35],[9.47,10.28],[9.50,10.45],[9.53,10.32],[9.56,10.22],[9.59,10.42],[9.62,10.36],[9.65,10.52],[9.68,10.30],[9.72,10.46],[9.76,10.40],[9.80,10.58],[9.84,10.44],[9.88,10.62],[9.92,10.50],[9.96,10.68],[10.00,10.56],[10.05,10.72],[10.10,10.62],[10.15,10.80],[10.20,10.68],[10.25,10.85],[10.30,10.75],[10.36,10.92],[10.42,10.82],[10.48,11.00],[10.54,10.90],[10.60,11.05],[10.66,10.95],[10.72,11.10],[10.80,11.02],[10.90,11.06],[9.28,10.28],[9.30,10.20],[9.34,10.24],[9.37,10.32],[9.43,10.22],[9.48,10.38],[9.54,10.40],[9.60,10.30],[9.66,10.44],[9.74,10.52],[9.82,10.50],[9.90,10.58],[10.02,10.64],[10.12,10.70],[10.22,10.78],[10.33,10.84],[10.45,10.88],[10.57,10.98]];
const mdmAstridOmR = [[9.26,10.55],[9.28,10.70],[9.30,10.62],[9.32,10.78],[9.34,10.58],[9.37,10.72],[9.40,10.66],[9.43,10.85],[9.46,10.60],[9.49,10.76],[9.52,10.70],[9.55,10.90],[9.58,10.68],[9.61,10.82],[9.64,10.75],[9.67,10.95],[9.70,10.72],[9.73,10.88],[9.76,10.80],[9.79,11.00],[9.82,10.78],[9.85,10.92],[9.88,10.85],[9.92,11.06],[9.96,10.82],[10.00,10.98],[10.04,10.90],[10.08,11.10],[10.12,10.92],[10.16,11.05],[10.20,11.15],[10.24,10.96],[10.28,11.10],[10.32,11.20],[10.36,11.02],[10.40,11.15],[10.45,11.25],[10.50,11.08],[10.55,11.22],[10.60,11.30],[10.65,11.15],[10.72,11.28],[9.30,10.48],[9.27,10.64],[9.29,10.78],[9.31,10.56],[9.35,10.66],[9.38,10.80],[9.42,10.70],[9.45,10.75],[9.48,10.66],[9.53,10.80],[9.57,10.74],[9.62,10.88],[9.66,10.80],[9.71,10.84],[9.75,10.94],[9.81,10.90],[9.87,10.98],[9.94,10.94],[10.02,11.05],[10.10,11.00],[10.18,11.08],[10.26,11.04],[10.34,11.12],[10.43,11.12],[10.53,11.16]];
const mdmAstridS8G = [[9.28,10.10],[9.30,10.22],[9.32,10.02],[9.34,10.30],[9.36,10.15],[9.38,9.96],[9.40,10.25],[9.42,10.08],[9.44,10.35],[9.46,10.18],[9.48,10.03],[9.50,10.28],[9.53,10.12],[9.56,10.40],[9.59,10.22],[9.62,10.10],[9.65,10.35],[9.68,10.26],[9.72,10.45],[9.76,10.30],[9.80,10.20],[9.84,10.50],[9.88,10.38],[9.92,10.56],[9.96,10.44],[10.00,10.62],[10.05,10.50],[10.10,10.70],[10.15,10.58],[10.20,10.78],[10.25,10.64],[10.30,10.52],[10.35,10.82],[10.40,10.90],[10.45,10.80],[10.50,11.05],[10.55,10.95],[10.60,11.15],[9.35,9.92],[9.46,9.96],[9.62,9.98],[9.29,10.16],[9.31,10.28],[9.35,10.22],[9.39,10.12],[9.43,10.20],[9.47,10.30],[9.51,10.18],[9.55,10.26],[9.60,10.32],[9.66,10.20],[9.73,10.36],[9.82,10.38],[9.90,10.46],[10.02,10.54],[10.18,10.66],[10.32,10.74]];
const mdmAstridS8B = [[9.29,10.35],[9.31,10.20],[9.33,10.45],[9.36,10.28],[9.39,10.40],[9.42,10.18],[9.45,10.50],[9.48,10.34],[9.51,10.56],[9.54,10.42],[9.57,10.30],[9.60,10.52],[9.63,10.40],[9.66,10.62],[9.70,10.48],[9.74,10.66],[9.78,10.54],[9.82,10.72],[9.86,10.60],[9.90,10.78],[9.95,10.64],[10.00,10.82],[10.05,10.70],[10.10,10.88],[10.15,10.76],[10.20,10.94],[10.26,10.82],[10.32,11.00],[10.38,10.90],[10.44,11.08],[10.50,10.98],[10.56,11.14],[10.62,11.05],[10.66,10.49],[11.01,10.87],[9.40,10.10],[9.30,10.28],[9.34,10.36],[9.38,10.24],[9.43,10.42],[9.49,10.40],[9.55,10.48],[9.62,10.46],[9.70,10.58],[9.80,10.64],[9.92,10.70],[10.05,10.78],[10.18,10.86],[10.34,10.94],[10.48,11.04]];
const mdmAstridS8R = [[9.28,10.45],[9.29,10.30],[9.31,10.55],[9.33,10.38],[9.35,10.25],[9.37,10.50],[9.39,10.42],[9.41,10.60],[9.43,10.35],[9.46,10.52],[9.49,10.44],[9.52,10.65],[9.55,10.48],[9.58,10.36],[9.61,10.58],[9.64,10.50],[9.67,10.70],[9.70,10.55],[9.73,10.44],[9.76,10.66],[9.80,10.58],[9.84,10.78],[9.88,10.64],[9.92,10.84],[9.96,10.70],[10.00,10.60],[10.04,10.80],[10.08,10.72],[10.12,10.90],[10.16,10.78],[10.20,10.96],[10.25,10.86],[10.30,11.02],[10.36,10.92],[10.42,11.10],[10.48,11.00],[10.55,11.18],[10.60,11.05],[10.68,11.25],[10.72,11.18],[10.82,11.12],[10.82,11.25],[9.29,10.40],[9.30,10.50],[9.32,10.34],[9.34,10.46],[9.36,10.56],[9.38,10.38],[9.40,10.48],[9.42,10.30],[9.45,10.44],[9.48,10.58],[9.51,10.50],[9.54,10.40],[9.57,10.56],[9.60,10.64],[9.63,10.48],[9.66,10.58],[9.69,10.64],[9.72,10.54],[9.76,10.72],[9.80,10.66],[9.85,10.70],[9.90,10.76],[9.95,10.80],[10.02,10.74],[10.10,10.84],[10.18,10.86],[10.27,10.94],[10.38,11.00],[10.50,11.08]];

// ---- row 4: log10(M_tot/Msun) ----
const totSimbaOmG = [[9.28,11.22],[9.30,11.10],[9.36,11.05],[9.41,10.78],[9.45,11.28],[9.50,11.35],[9.55,11.15],[9.60,11.40],[9.65,11.25],[9.685,10.40],[9.72,11.45],[9.80,11.30],[9.90,11.50],[9.95,11.05],[10.00,11.55],[10.10,11.65],[10.15,11.60],[10.28,11.90],[10.30,11.82],[10.32,11.65],[10.55,11.80],[10.59,11.78],[9.58,10.95]];
const totSimbaOmB = [[9.29,11.10],[9.30,10.72],[9.32,11.42],[9.34,10.95],[9.36,11.25],[9.38,10.50],[9.39,10.62],[9.40,11.18],[9.42,11.34],[9.44,10.85],[9.46,11.48],[9.48,11.05],[9.50,11.20],[9.52,10.80],[9.54,11.38],[9.56,11.00],[9.58,11.55],[9.60,10.90],[9.62,11.28],[9.64,10.74],[9.66,11.44],[9.68,10.62],[9.70,11.12],[9.72,11.60],[9.74,11.02],[9.76,11.40],[9.78,10.88],[9.80,11.68],[9.82,11.25],[9.85,11.78],[9.88,11.00],[9.90,10.74],[9.92,11.62],[9.95,11.85],[9.98,11.45],[10.00,11.90],[10.04,11.68],[10.08,11.95],[10.12,11.80],[10.16,12.05],[10.20,11.85],[10.22,12.22],[10.22,11.25],[10.28,11.98],[10.32,12.10],[10.37,11.33],[10.42,12.12],[10.48,12.20],[10.52,12.14],[10.67,12.72],[10.72,12.32],[10.80,12.58],[10.86,12.48],[9.86,11.48]];
const totSimbaOmR = [[9.28,11.45],[9.29,11.30],[9.30,11.55],[9.30,11.10],[9.31,11.38],[9.32,11.62],[9.33,11.22],[9.34,11.48],[9.35,10.95],[9.36,11.35],[9.37,11.58],[9.38,11.15],[9.39,11.42],[9.40,11.28],[9.41,11.66],[9.42,11.05],[9.43,11.50],[9.44,11.34],[9.45,11.20],[9.46,11.56],[9.47,11.42],[9.48,10.98],[9.49,11.62],[9.50,11.30],[9.51,11.48],[9.52,11.12],[9.53,11.70],[9.54,11.38],[9.55,11.55],[9.56,11.25],[9.57,11.44],[9.58,11.02],[9.59,11.64],[9.60,11.35],[9.61,11.52],[9.62,11.18],[9.63,11.72],[9.64,11.45],[9.65,11.60],[9.66,11.28],[9.67,11.50],[9.68,10.92],[9.69,11.75],[9.70,11.40],[9.71,11.58],[9.72,11.22],[9.73,11.66],[9.74,11.48],[9.75,11.80],[9.76,11.35],[9.77,11.62],[9.78,11.52],[9.79,11.85],[9.80,11.42],[9.81,11.70],[9.82,11.58],[9.83,11.30],[9.84,11.76],[9.85,11.62],[9.86,11.88],[9.87,11.50],[9.88,11.72],[9.89,11.64],[9.90,11.80],[9.92,11.56],[9.94,11.74],[9.96,11.66],[9.98,11.86],[10.00,11.60],[10.03,11.78],[10.06,11.95],[10.10,11.70],[10.14,11.88],[10.18,12.02],[10.22,11.92],[10.26,12.10],[10.30,12.04],[10.35,12.15],[10.42,12.18],[10.45,12.50],[10.50,12.10],[10.58,12.58],[10.60,12.40],[10.62,12.35],[10.65,12.28],[10.80,12.77],[9.92,12.08],[9.60,11.00],[9.38,10.78],[9.76,11.05],[9.285,11.36],[9.295,11.52],[9.305,11.24],[9.315,11.45],[9.325,11.05],[9.335,11.60],[9.345,11.30],[9.355,11.44],[9.365,11.15],[9.375,11.50],[9.385,11.38],[9.395,11.00],[9.405,11.55],[9.415,11.32],[9.425,11.46],[9.435,11.25],[9.445,11.62],[9.455,11.40],[9.465,11.10],[9.475,11.52],[9.485,11.36],[9.495,11.46],[9.505,11.20],[9.515,11.60],[9.525,11.42],[9.535,11.32],[9.545,11.50],[9.555,11.15],[9.565,11.58],[9.575,11.36],[9.585,11.48],[9.595,11.28],[9.605,11.68],[9.615,11.44],[9.625,11.56],[9.635,11.35],[9.645,11.64],[9.655,11.50],[9.665,11.40],[9.675,11.70],[9.685,11.56],[9.695,11.30],[9.705,11.64],[9.715,11.50],[9.725,11.72],[9.735,11.42],[9.745,11.60],[9.755,11.68],[9.765,11.55],[9.775,11.74],[9.785,11.46],[9.795,11.66],[9.805,11.58],[9.815,11.78],[9.825,11.64],[9.835,11.52],[9.845,11.70],[9.855,11.80],[9.865,11.66],[9.875,11.58],[9.885,11.82],[9.895,11.70],[9.91,11.64],[9.93,11.80],[9.95,11.70],[9.97,11.60],[9.99,11.76],[10.02,11.68],[10.05,11.85],[10.08,11.80],[10.12,11.76],[10.16,11.96],[10.20,11.82],[10.24,12.00],[10.28,12.18],[10.33,12.02]];
const totSimbaS8G = [[9.28,11.05],[9.30,11.35],[9.32,10.80],[9.34,11.20],[9.36,11.50],[9.38,10.95],[9.40,11.30],[9.42,11.60],[9.44,10.70],[9.46,11.15],[9.48,11.42],[9.50,10.58],[9.52,11.25],[9.54,11.55],[9.56,11.00],[9.58,11.38],[9.60,11.68],[9.62,10.85],[9.64,11.30],[9.66,11.50],[9.68,11.10],[9.70,11.72],[9.73,11.40],[9.76,10.95],[9.79,11.62],[9.82,11.30],[9.85,11.80],[9.88,11.50],[9.92,11.20],[9.96,11.72],[10.00,11.55],[10.05,11.90],[10.10,11.70],[10.15,11.45],[10.20,11.98],[10.25,11.80],[10.30,12.10],[10.36,11.92],[10.42,12.20],[10.48,12.05],[10.54,12.35],[10.60,12.55],[10.66,12.72],[10.72,12.40],[10.80,12.30],[10.95,12.52],[11.12,12.78],[9.60,10.40],[9.40,10.55],[9.29,11.20],[9.31,11.45],[9.33,11.00],[9.35,11.30],[9.37,11.62],[9.39,11.15],[9.41,10.85],[9.43,11.38],[9.45,11.55],[9.47,11.25],[9.49,11.05],[9.51,11.48],[9.53,11.35],[9.55,10.80],[9.57,11.58],[9.59,11.20],[9.61,11.45],[9.63,11.62],[9.65,11.15],[9.67,11.40],[9.69,11.58],[9.71,11.28],[9.75,11.52],[9.80,11.75],[9.86,11.60],[9.94,11.82],[10.03,11.78],[10.13,11.86],[10.22,12.10]];
const totSimbaS8B = [[9.28,11.25],[9.30,10.90],[9.32,11.45],[9.34,11.10],[9.37,10.70],[9.40,11.35],[9.42,11.58],[9.45,11.00],[9.48,11.42],[9.51,11.20],[9.54,11.65],[9.57,11.30],[9.60,10.85],[9.63,11.50],[9.66,11.72],[9.69,11.25],[9.72,11.60],[9.75,11.40],[9.78,11.82],[9.82,11.55],[9.86,11.90],[9.90,11.65],[9.94,11.40],[9.98,11.95],[10.02,11.75],[10.06,12.02],[10.10,11.85],[10.15,12.10],[10.20,11.95],[10.26,12.20],[10.32,12.05],[10.38,12.30],[10.45,12.18],[10.52,12.40],[10.58,12.28],[10.66,12.55],[10.75,12.48],[9.35,10.55],[9.50,10.62],[10.40,11.60],[9.29,11.40],[9.31,11.05],[9.33,11.60],[9.36,11.30],[9.39,10.95],[9.41,11.50],[9.44,11.28],[9.47,11.62],[9.50,11.08],[9.53,11.48],[9.56,11.15],[9.59,11.66],[9.62,11.38],[9.65,11.55],[9.68,11.08],[9.71,11.72],[9.74,11.50],[9.77,11.62],[9.81,11.78],[9.85,11.68],[9.89,11.80],[9.95,11.72],[10.04,11.90],[10.12,12.00],[10.24,12.08],[10.36,12.22],[10.49,12.28],[10.62,12.40]];
const totSimbaS8R = [[9.28,11.40],[9.29,11.15],[9.30,11.62],[9.31,10.95],[9.33,11.30],[9.34,11.52],[9.36,11.08],[9.37,11.42],[9.39,11.70],[9.40,11.20],[9.42,11.48],[9.43,10.82],[9.45,11.35],[9.46,11.60],[9.48,11.12],[9.49,11.45],[9.51,11.75],[9.52,11.28],[9.54,11.52],[9.55,10.98],[9.57,11.40],[9.58,11.66],[9.60,11.22],[9.61,11.55],[9.63,11.80],[9.64,11.35],[9.66,11.60],[9.67,11.10],[9.69,11.48],[9.70,11.72],[9.72,11.38],[9.73,11.62],[9.75,11.85],[9.77,11.50],[9.79,11.70],[9.81,11.42],[9.83,11.78],[9.85,11.58],[9.88,11.92],[9.90,11.66],[9.93,11.82],[9.96,11.60],[10.00,11.88],[10.04,12.00],[10.08,11.78],[10.12,11.95],[10.17,12.08],[10.22,11.90],[10.28,12.15],[10.34,12.00],[10.40,12.25],[10.48,12.35],[10.55,12.20],[10.62,12.50],[10.68,12.38],[10.80,12.62],[9.35,10.80],[9.55,10.65],[9.75,11.08],[9.285,11.30],[9.295,11.52],[9.305,11.05],[9.32,11.46],[9.335,11.68],[9.35,11.22],[9.365,11.55],[9.38,11.00],[9.395,11.38],[9.41,11.62],[9.425,11.30],[9.44,11.58],[9.455,11.15],[9.47,11.48],[9.485,11.70],[9.50,11.38],[9.515,11.58],[9.53,11.15],[9.545,11.65],[9.56,11.45],[9.575,11.28],[9.59,11.72],[9.605,11.48],[9.62,11.62],[9.635,11.38],[9.65,11.75],[9.665,11.55],[9.68,11.66],[9.695,11.40],[9.71,11.78],[9.725,11.56],[9.74,11.70],[9.76,11.62],[9.78,11.82],[9.80,11.58],[9.82,11.68],[9.84,11.86],[9.87,11.74],[9.91,11.78],[9.95,11.90],[10.02,11.80],[10.10,12.05],[10.20,12.12],[10.30,12.28]];
const totAstridOmG = [[9.43,11.19],[9.50,10.74],[9.52,11.05],[9.58,11.25],[9.62,11.10],[9.68,11.30],[9.75,11.20],[9.82,11.35],[9.90,11.45],[10.00,11.40],[10.10,11.68],[10.24,11.90],[10.28,11.85],[10.32,11.92],[10.36,11.82],[10.46,11.98],[10.54,12.04],[10.60,12.00],[10.84,12.24],[10.85,12.51],[11.04,12.47],[10.86,12.30],[9.40,10.90]];
const totAstridOmB = [[9.28,11.30],[9.30,11.14],[9.31,11.45],[9.33,11.38],[9.35,11.20],[9.36,10.95],[9.38,11.50],[9.40,11.28],[9.42,11.05],[9.43,10.63],[9.45,11.42],[9.48,11.58],[9.50,10.75],[9.52,11.35],[9.55,11.62],[9.56,10.78],[9.58,11.48],[9.60,11.70],[9.62,11.30],[9.64,11.55],[9.66,11.78],[9.68,11.45],[9.70,11.62],[9.72,11.85],[9.74,11.52],[9.76,11.72],[9.78,11.92],[9.80,11.60],[9.83,11.82],[9.86,11.98],[9.88,11.70],[9.90,11.88],[9.93,12.05],[9.96,11.80],[9.99,12.00],[10.02,12.12],[10.05,11.92],[10.08,12.08],[10.12,12.22],[10.16,12.00],[10.20,12.18],[10.24,12.35],[10.28,12.12],[10.32,12.30],[10.36,12.45],[10.40,12.25],[10.44,12.40],[10.48,12.55],[10.52,12.35],[10.58,12.52],[10.62,12.70],[10.63,13.00],[11.00,12.81],[9.40,10.35],[9.32,10.62],[9.29,11.24],[9.32,11.50],[9.34,11.10],[9.37,11.32],[9.41,11.44],[9.44,11.20],[9.47,11.52],[9.51,11.45],[9.57,11.58],[9.63,11.62],[9.69,11.70],[9.75,11.65],[9.81,11.78],[9.87,11.82],[9.94,11.92],[10.02,11.98],[10.10,12.15],[10.18,12.25],[10.30,12.38],[10.42,12.48],[10.54,12.62]];
const totAstridOmR = [[9.27,11.55],[9.28,11.70],[9.29,11.40],[9.30,11.62],[9.32,11.78],[9.33,11.50],[9.35,11.66],[9.37,11.85],[9.38,11.58],[9.40,11.74],[9.42,11.92],[9.44,11.68],[9.46,11.82],[9.48,11.98],[9.50,11.75],[9.52,11.90],[9.54,12.05],[9.56,11.80],[9.58,11.95],[9.60,12.10],[9.62,11.88],[9.64,12.02],[9.66,12.18],[9.68,11.95],[9.70,12.10],[9.72,12.25],[9.74,12.00],[9.76,12.15],[9.78,12.30],[9.80,12.08],[9.83,12.22],[9.86,12.36],[9.89,12.15],[9.92,12.30],[9.95,12.42],[9.98,12.20],[10.01,12.35],[10.04,12.50],[10.07,12.28],[10.10,12.45],[10.14,12.56],[10.18,12.40],[10.22,12.62],[10.26,12.70],[10.30,12.62],[10.34,12.78],[10.38,12.68],[10.42,12.85],[10.48,13.10],[10.52,13.00],[9.35,11.40],[9.45,11.55],[9.80,11.80],[10.05,11.90],[9.74,11.37],[10.05,11.80],[9.28,11.50],[9.30,11.45],[9.31,11.74],[9.34,11.58],[9.36,11.48],[9.39,11.80],[9.41,11.62],[9.45,11.72],[9.49,11.86],[9.53,11.78],[9.57,11.92],[9.61,12.00],[9.65,11.90],[9.69,12.05],[9.73,12.12],[9.77,12.04],[9.82,12.16],[9.87,12.26],[9.93,12.22],[9.99,12.40],[10.06,12.38],[10.12,12.52],[10.20,12.50],[10.28,12.72],[10.40,12.72],[10.46,12.95]];
const totAstridS8G = [[9.28,11.40],[9.30,11.62],[9.32,11.25],[9.34,11.55],[9.36,11.75],[9.38,11.10],[9.40,11.45],[9.42,11.68],[9.44,10.85],[9.46,11.50],[9.48,11.80],[9.50,11.30],[9.52,10.70],[9.54,11.62],[9.56,11.82],[9.58,11.40],[9.60,11.70],[9.63,11.20],[9.66,11.60],[9.69,11.85],[9.72,11.45],[9.75,11.70],[9.78,11.05],[9.81,11.90],[9.84,11.60],[9.88,11.95],[9.92,11.75],[9.96,12.08],[10.00,11.85],[10.04,12.15],[10.08,11.95],[10.12,12.25],[10.16,12.05],[10.20,12.40],[10.25,12.20],[10.30,12.50],[10.36,12.35],[10.42,12.55],[10.48,12.40],[10.52,12.85],[10.40,12.72],[9.45,10.60],[9.62,10.72],[9.80,11.30],[9.29,11.50],[9.31,11.30],[9.33,11.70],[9.35,11.42],[9.37,11.58],[9.39,11.35],[9.41,11.55],[9.43,11.76],[9.45,11.40],[9.47,11.62],[9.49,11.48],[9.51,11.72],[9.53,11.52],[9.55,11.38],[9.57,11.66],[9.60,11.55],[9.64,11.78],[9.68,11.62],[9.73,11.82],[9.78,11.72],[9.85,11.80],[9.93,11.90],[10.02,12.00],[10.14,12.12]];
const totAstridS8B = [[9.28,11.50],[9.30,11.25],[9.32,11.05],[9.34,11.65],[9.36,10.90],[9.38,11.40],[9.40,11.72],[9.42,10.75],[9.44,11.55],[9.47,10.60],[9.50,11.62],[9.53,11.30],[9.56,11.80],[9.59,11.48],[9.62,11.70],[9.65,11.22],[9.68,11.85],[9.72,11.58],[9.76,11.92],[9.80,11.70],[9.84,12.00],[9.88,11.82],[9.92,12.08],[9.96,11.90],[10.00,12.15],[10.05,11.98],[10.10,12.28],[10.15,12.10],[10.20,12.40],[10.25,12.22],[10.30,12.55],[10.36,12.38],[10.42,12.60],[10.48,12.45],[10.55,12.82],[10.60,12.90],[10.45,11.85],[11.01,12.80],[10.15,11.70],[9.60,10.95],[9.29,11.58],[9.31,11.40],[9.34,11.48],[9.37,11.62],[9.40,11.35],[9.43,11.65],[9.47,11.52],[9.51,11.70],[9.55,11.55],[9.60,11.78],[9.66,11.65],[9.72,11.82],[9.79,11.88],[9.86,11.92],[9.94,12.00],[10.03,12.08],[10.12,12.18],[10.22,12.30],[10.34,12.42]];
const totAstridS8R = [[9.28,11.62],[9.29,11.35],[9.30,11.80],[9.31,11.15],[9.33,11.52],[9.35,11.70],[9.36,10.85],[9.38,11.45],[9.40,11.62],[9.42,11.28],[9.44,11.75],[9.46,11.50],[9.48,11.85],[9.50,11.40],[9.52,11.65],[9.55,11.88],[9.58,11.55],[9.61,11.78],[9.64,11.45],[9.67,11.92],[9.70,11.68],[9.73,11.98],[9.76,11.75],[9.80,12.02],[9.84,11.85],[9.88,12.10],[9.92,11.95],[9.96,12.18],[10.00,12.02],[10.05,12.28],[10.10,12.12],[10.15,12.35],[10.20,12.20],[10.26,12.45],[10.32,12.30],[10.40,12.55],[10.50,12.62],[10.58,12.78],[10.65,12.70],[10.72,12.68],[10.72,12.82],[9.65,11.05],[9.85,11.40],[9.29,11.55],[9.30,11.70],[9.32,11.42],[9.34,11.62],[9.36,11.75],[9.37,11.50],[9.39,11.68],[9.41,11.55],[9.43,11.82],[9.45,11.62],[9.47,11.72],[9.49,11.55],[9.51,11.78],[9.54,11.70],[9.57,11.82],[9.60,11.62],[9.63,11.85],[9.66,11.72],[9.69,11.80],[9.72,11.88],[9.75,11.82],[9.79,11.92],[9.83,11.96],[9.87,12.02],[9.92,12.08],[9.98,12.10],[10.04,12.18],[10.12,12.25],[10.22,12.35],[10.35,12.48]];

// ---- layout ----
const margin = {left: 94, top: 46};
const panelW = 306.75, panelH = 193.5;
const colors = ["#5e7c42", "#1414c0", "#b81414"];

function ticksBetween(lo, hi, step) {
	let out = [];
	let start = Math.ceil(lo / step - 1e-9);
	for (let k = start; k * step <= hi + 1e-9; k++) out.push(+(k * step).toFixed(4));
	return out;
}

// rich text: parts of [text, style] with style n (normal), i (italic), s (subscript), si (italic subscript)
function richText(sel, parts, size, subSize, drop, fill) {
	let shift = 0;
	for (const [txt, st] of parts) {
		let t = sel.append("tspan").text(txt);
		if (fill) t.attr("fill", fill);
		let sub = st === "s" || st === "si";
		let dy = (sub ? drop : 0) - shift;
		shift = sub ? drop : 0;
		if (dy !== 0) t.attr("dy", dy);
		if (sub) t.attr("font-size", subSize);
		if (st === "i" || st === "si") t.attr("font-style", "italic");
	}
}

const rows = [
	{domain: [0.09, 1.815], majors: [0.25, 0.5, 0.75, 1.0, 1.25, 1.5, 1.75], minor: 0.05, fmt: d3.format(".2f"),
	 bx: bandX, lo: radLower, mid: radMid, hi: radUpper,
	 label: [["log","n"],["10","s"],["(","n"],["R","i"],["*,1/2","s"],["/kpc)","n"]],
	 data: [[radSimbaOmG, radSimbaOmB, radSimbaOmR], [radSimbaS8G, radSimbaS8B, radSimbaS8R], [radAstridOmG, radAstridOmB, radAstridOmR], [radAstridS8G, radAstridS8B, radAstridS8R]]},
	{domain: [0.0, 1.013], majors: [0.2, 0.4, 0.6, 0.8], minor: 0.05, fmt: d3.format(".1f"),
	 bx: bandX, lo: fdmLower, mid: fdmMid, hi: fdmUpper,
	 label: [["f","i"],["DM","s"],["(<","n"],["R","i"],["*,1/2","s"],[")","n"]],
	 data: [[fdmSimbaOmG, fdmSimbaOmB, fdmSimbaOmR], [fdmSimbaS8G, fdmSimbaS8B, fdmSimbaS8R], [fdmAstridOmG, fdmAstridOmB, fdmAstridOmR], [fdmAstridS8G, fdmAstridS8B, fdmAstridS8R]]},
	{domain: [8.545, 11.447], majors: [9.0, 9.5, 10.0, 10.5, 11.0], minor: 0.1, fmt: d3.format(".1f"),
	 bx: bandX, lo: mdmLower, mid: mdmMid, hi: mdmUpper,
	 label: [["log","n"],["10","s"],["(","n"],["M","i"],["DM,1/2","s"],["/","n"],["M","i"],["\u2299","s"],[")","n"]],
	 data: [[mdmSimbaOmG, mdmSimbaOmB, mdmSimbaOmR], [mdmSimbaS8G, mdmSimbaS8B, mdmSimbaS8R], [mdmAstridOmG, mdmAstridOmB, mdmAstridOmR], [mdmAstridS8G, mdmAstridS8B, mdmAstridS8R]]},
	{domain: [10.22, 13.27], majors: [10.5, 11.0, 11.5, 12.0, 12.5, 13.0], minor: 0.1, fmt: d3.format(".1f"),
	 bx: bandXTot, lo: totLower, mid: totMid, hi: totUpper,
	 label: [["log","n"],["10","s"],["(","n"],["M","i"],["tot","s"],["/","n"],["M","i"],["\u2299","s"],[")","n"]],
	 data: [[totSimbaOmG, totSimbaOmB, totSimbaOmR], [totSimbaS8G, totSimbaS8B, totSimbaS8R], [totAstridOmG, totAstridOmB, totAstridOmR], [totAstridS8G, totAstridS8B, totAstridS8R]]}
];

const cols = [
	{domain: xDomainSimba, sym: "Om", vals: legendOm},
	{domain: xDomainSimba, sym: "s8", vals: legendS8},
	{domain: xDomainAstrid, sym: "Om", vals: legendOm},
	{domain: xDomainAstrid, sym: "s8", vals: legendS8}
];

let svg = d3.select("#chart");
svg.append("defs").append("clipPath").attr("id", "panelClip")
	.append("rect").attr("width", panelW).attr("height", panelH);

rows.forEach(function (row, ri) {
	let y = d3.scaleLinear().domain(row.domain).range([panelH, 0]);
	let yMinors = ticksBetween(row.domain[0], row.domain[1], row.minor);
	cols.forEach(function (col, ci) {
		let x = d3.scaleLinear().domain(col.domain).range([0, panelW]);
		let xMinors = ticksBetween(col.domain[0], col.domain[1], 0.1);
		let g = svg.append("g")
			.attr("transform", "translate(" + (margin.left + ci * panelW) + "," + (margin.top + ri * panelH) + ")");
		let inner = g.append("g").attr("clip-path", "url(#panelClip)");

		// grey band
		let pts = row.bx.map((bx, k) => ({x: bx, lo: row.lo[k], mid: row.mid[k], hi: row.hi[k]}));
		inner.append("path").datum(pts)
			.attr("d", d3.area().x(d => x(d.x)).y0(d => y(d.lo)).y1(d => y(d.hi)))
			.attr("fill", "#cccccc");
		let last = pts[pts.length - 1];
		inner.append("line")
			.attr("x1", x(last.x)).attr("x2", x(last.x))
			.attr("y1", y(last.lo)).attr("y2", y(last.hi))
			.attr("stroke", "#a8a8a8").attr("stroke-width", 2);
		for (const key of ["lo", "mid", "hi"]) {
			inner.append("path").datum(pts)
				.attr("d", d3.line().x(d => x(d.x)).y(d => y(d[key])))
				.attr("fill", "none").attr("stroke", "#000").attr("stroke-width", 1.1);
		}

		// scatter points
		row.data[ci].forEach(function (series, si) {
			inner.append("g").selectAll("circle")
				.data(series)
				.join("circle")
				.attr("cx", d => x(d[0]))
				.attr("cy", d => y(d[1]))
				.attr("r", 2.2)
				.attr("fill", colors[si])
				.attr("fill-opacity", 0.88);
		});

		// inward ticks on all four sides
		const tickAxis = function (axisFn, scale, vals, size, tr) {
			let a = g.append("g").attr("transform", tr)
				.call(axisFn(scale).tickValues(vals).tickSize(size).tickFormat(""));
			a.select(".domain").remove();
			a.selectAll("line").attr("stroke", "#000").attr("stroke-width", 1);
		};
		tickAxis(d3.axisRight, y, yMinors, 2.5, "translate(0,0)");
		tickAxis(d3.axisRight, y, row.majors, 4.5, "translate(0,0)");
		tickAxis(d3.axisLeft, y, yMinors, 2.5, "translate(" + panelW + ",0)");
		tickAxis(d3.axisLeft, y, row.majors, 4.5, "translate(" + panelW + ",0)");
		tickAxis(d3.axisBottom, x, xMinors, 2.5, "translate(0,0)");
		tickAxis(d3.axisBottom, x, xTicks, 4.5, "translate(0,0)");
		tickAxis(d3.axisTop, x, xMinors, 2.5, "translate(0," + panelH + ")");
		tickAxis(d3.axisTop, x, xTicks, 4.5, "translate(0," + panelH + ")");

		g.append("rect").attr("width", panelW).attr("height", panelH)
			.attr("fill", "none").attr("stroke", "#000").attr("stroke-width", 1.3);

		// tick labels and axis titles
		if (ci === 0) {
			let a = g.append("g").call(d3.axisLeft(y).tickValues(row.majors).tickSize(0).tickPadding(7).tickFormat(row.fmt));
			a.select(".domain").remove();
			a.selectAll("text").attr("font-size", 18).attr("font-family", "Liberation Serif, serif");
			let lab = svg.append("text")
				.attr("transform", "translate(33," + (margin.top + ri * panelH + panelH / 2) + ") rotate(-90)")
				.attr("text-anchor", "middle").attr("font-size", 22);
			richText(lab, row.label, 22, 15.5, 6);
		}
		if (ri === rows.length - 1) {
			let a = g.append("g").attr("transform", "translate(0," + panelH + ")")
				.call(d3.axisBottom(x).tickValues(xTicks).tickSize(0).tickPadding(14).tickFormat(d3.format(".1f")));
			a.select(".domain").remove();
			a.selectAll("text").attr("font-size", 18).attr("font-family", "Liberation Serif, serif");
			let lab = g.append("text").attr("x", panelW / 2).attr("y", panelH + 65)
				.attr("text-anchor", "middle").attr("font-size", 22);
			richText(lab, [["log","n"],["10","s"],["(","n"],["M","i"],["*","s"],["/","n"],["M","i"],["\u2299","s"],[")","n"]], 22, 15.5, 6);
		}

		// legend
		if (ri === 0) {
			let leg = g.append("text").attr("class", "leg").attr("x", 13).attr("y", 31).attr("font-size", 20);
			col.vals.forEach(function (v, k) {
				let parts = col.sym === "Om"
					? [["\u03A9","n"],["m","si"],["=" + v + (k < 2 ? ", " : ""),"n"]]
					: [["\u03C3","i"],["8","s"],["=" + v + (k < 2 ? ", " : ""),"n"]];
				richText(leg, parts, 20, 14, 5, colors[k]);
			});
		}
	});
});

// simulation titles
svg.append("text").attr("x", margin.left + panelW).attr("y", 30)
	.attr("text-anchor", "middle").attr("font-size", 25).text("SIMBA");
svg.append("text").attr("x", margin.left + 3 * panelW).attr("y", 30)
	.attr("text-anchor", "middle").attr("font-size", 25).text("ASTRID");
</script>
</body>
</html>
